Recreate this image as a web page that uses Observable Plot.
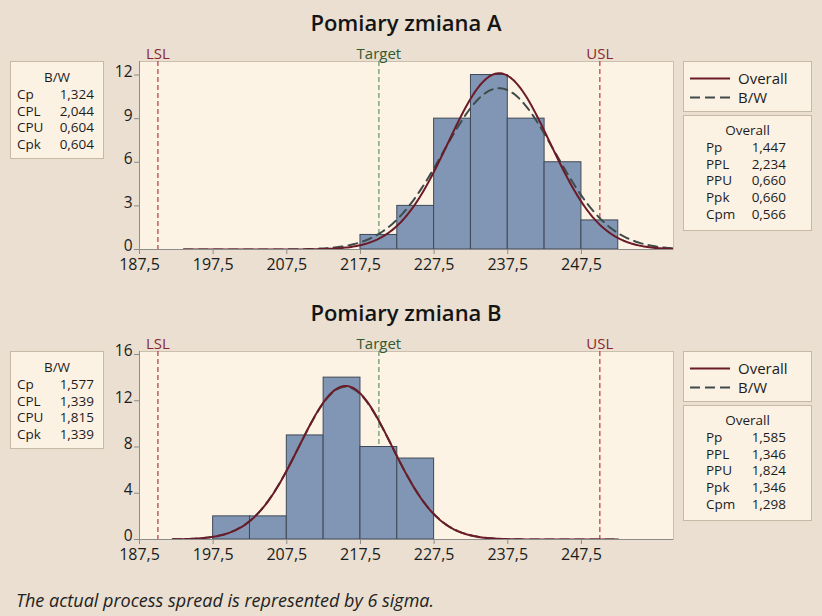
<!DOCTYPE html>
<html>
<head>
<meta charset="utf-8">
<script src="https://cdn.jsdelivr.net/npm/d3@7"></script>
<script src="https://cdn.jsdelivr.net/npm/@observablehq/plot@0.6"></script>
<style>
  html, body { margin: 0; background: #eadfd0; }
  #page { position: relative; width: 822px; height: 616px; background: #eadfd0; overflow: hidden;
          font-family: "Open Sans", "Noto Sans", sans-serif; color: #1c1c1c; }
  .title { position: absolute; left: 139px; width: 534px; text-align: center; font-size: 22px; font-weight: 600; line-height: 30px; color: #141414; }
  .panel { position: absolute; left: 0; }
  .box { position: absolute; background: #fcf2e4; border: 1px solid #c8b9a6; box-sizing: border-box; font-size: 13.5px; line-height: 18px; }
  .box .hd { position: absolute; left: 0; right: 0; text-align: center; }
  .box .lb { position: absolute; }
  .box .vl { position: absolute; text-align: right; }
  .legend { position: absolute; background: #fcf2e4; border: 1px solid #c8b9a6; box-sizing: border-box; }
  .caption { position: absolute; left: 16px; top: 588px; font-style: italic; font-size: 18px; line-height: 24px; color: #222; }
</style>
</head>
<body>
<div id="page"></div>
<script>
// Specification limits and axis ticks shared by both panels
const specNames = ["LSL", "Target", "USL"];
const specValues = [190, 220, 250];
const xTicks = [187.5, 197.5, 207.5, 217.5, 227.5, 237.5, 247.5];

// Panel A: histogram (bin lower edges, counts) and capability indices
const binStartA = [217.5, 222.5, 227.5, 232.5, 237.5, 242.5, 247.5];
const countsA = [1, 3, 9, 12, 9, 6, 2];
const yTicksA = [0, 3, 6, 9, 12];
const withinLabelsA = ["Cp", "CPL", "CPU", "Cpk"];
const withinValuesA = [1.324, 2.044, 0.604, 0.604];
const overallLabelsA = ["Pp", "PPL", "PPU", "Ppk", "Cpm"];
const overallValuesA = [1.447, 2.234, 0.660, 0.660, 0.566];

// Panel B
const binStartB = [197.5, 202.5, 207.5, 212.5, 217.5, 222.5];
const countsB = [2, 2, 9, 14, 8, 7];
const yTicksB = [0, 4, 8, 12, 16];
const withinLabelsB = ["Cp", "CPL", "CPU", "Cpk"];
const withinValuesB = [1.577, 1.339, 1.815, 1.339];
const overallLabelsB = ["Pp", "PPL", "PPU", "Ppk", "Cpm"];
const overallValuesB = [1.585, 1.346, 1.824, 1.346, 1.298];

const binWidth = 5;
const fmtNum = (v, d) => d3.format(`.${d}f`)(v).replace(".", ",");

const page = document.getElementById("page");

// Normal curve scaled to the histogram counts
function normalCurve(mean, sd, n, lo, hi) {
  const k = n * binWidth / (sd * Math.sqrt(2 * Math.PI));
  return d3.range(lo, hi + 0.001, 0.25).map(x => ({x, y: k * Math.exp(-0.5 * ((x - mean) / sd) ** 2)}));
}

function statBox(left, top, width, height, header, labels, values, lx, vr, y0) {
  const b = document.createElement("div");
  b.className = "box";
  Object.assign(b.style, {left: left + "px", top: top + "px", width: width + "px", height: height + "px"});
  let html = `<div class="hd" style="top:${y0}px">${header}</div>`;
  labels.forEach((l, i) => {
    const t = y0 + 16.8 * (i + 1);
    html += `<div class="lb" style="left:${lx}px;top:${t}px">${l}</div>`;
    html += `<div class="vl" style="right:${vr}px;top:${t}px">${fmtNum(values[i], 3)}</div>`;
  });
  b.innerHTML = html;
  page.appendChild(b);
}

function legendBox(left, top) {
  const d = document.createElement("div");
  d.className = "legend";
  Object.assign(d.style, {left: left + "px", top: top + "px", width: "129px", height: "51px"});
  d.innerHTML = `<svg width="127" height="49" style="position:absolute;left:0;top:0" font-family="Open Sans, sans-serif" font-size="15" fill="#1c1c1c">
      <line x1="6" x2="46" y1="16.5" y2="16.5" stroke="#6b1b27" stroke-width="2"/>
      <text x="54" y="22">Overall</text>
      <line x1="6" x2="46" y1="35.5" y2="35.5" stroke="#3f4b4b" stroke-width="2" stroke-dasharray="10,5"/>
      <text x="54" y="41">B/W</text>
    </svg>`;
  page.appendChild(d);
}

function panel(opts) {
  const {title, offset, binStart, counts, yMax, yTicks, withinLabels, withinValues,
         overallLabels, overallValues, curveLo, curveHi} = opts;
  const [LSL, , USL] = specValues;
  const n = d3.sum(counts);
  // Overall and within sigmas from Pp and Cp; mean from PPL
  const sdOverall = (USL - LSL) / (6 * overallValues[0]);
  const sdWithin = (USL - LSL) / (6 * withinValues[0]);
  const mean = LSL + 3 * sdOverall * overallValues[1];

  const bars = binStart.map((s, i) => ({x1: s, x2: s + binWidth, count: counts[i]}));
  const specs = specNames.map((name, i) => ({name, value: specValues[i],
    line: name === "Target" ? "#6f9a6f" : "#b8474f",
    ink: name === "Target" ? "#33592f" : "#8a2632"}));

  const t = document.createElement("div");
  t.className = "title";
  t.style.top = (offset + 7) + "px";
  t.textContent = title;
  page.appendChild(t);

  const chart = Plot.plot({
    width: 822, height: 240,
    marginLeft: 139, marginRight: 149, marginTop: 21, marginBottom: 31,
    style: {background: "transparent", fontFamily: "Open Sans, sans-serif", fontSize: "16px", color: "#1c1c1c"},
    x: {domain: [187.5, 260], label: null},
    y: {domain: [0, yMax], label: null},
    marks: [
      Plot.frame({fill: "#fdf3e4", stroke: "#cdbfad"}),
      Plot.ruleX(specs, {x: "value", stroke: "line", strokeWidth: 1.3, strokeDasharray: "5,3"}),
      Plot.text(specs, {x: "value", text: "name", frameAnchor: "top", lineAnchor: "bottom", dy: -3, fill: "ink", fontSize: 15}),
      Plot.rectY(bars, {x1: "x1", x2: "x2", y: "count", fill: "#8196b4", stroke: "#3e4856", strokeWidth: 1}),
      Plot.line(normalCurve(mean, sdWithin, n, curveLo, curveHi), {x: "x", y: "y", stroke: "#3f4b4b", strokeWidth: 2, strokeDasharray: "9,6", clip: true}),
      Plot.line(normalCurve(mean, sdOverall, n, curveLo, curveHi), {x: "x", y: "y", stroke: "#6b1b27", strokeWidth: 2, clip: true}),
      Plot.ruleY([0], {stroke: "#8c8c8c"}),
      Plot.ruleX([187.5], {stroke: "#8c8c8c"}),
      Plot.axisX(xTicks, {tickFormat: d => fmtNum(d, 1), tickSize: 5, tickPadding: 4, stroke: "#8c8c8c"}),
      // y tick marks, then the y labels nudged slightly upward
      Plot.axisY(yTicks, {tickSize: 5, tickFormat: () => "", stroke: "#8c8c8c"}),
      Plot.axisY(yTicks, {tickSize: 0, tickPadding: 7, dy: -3, fontSize: 15.5})
    ]
  });
  chart.classList.add("panel");
  chart.style.top = (offset + 40) + "px";
  page.appendChild(chart);

  statBox(10, offset + 61, 94, 98, "B/W", withinLabels, withinValues, 6, 9, 6);
  legendBox(683, offset + 61);
  statBox(683, offset + 115, 129, 116, "Overall", overallLabels, overallValues, 22, 25, 5);
}

panel({title: "Pomiary zmiana A", offset: 0, binStart: binStartA, counts: countsA, yMax: 12.93, yTicks: yTicksA,
       withinLabels: withinLabelsA, withinValues: withinValuesA, overallLabels: overallLabelsA, overallValues: overallValuesA,
       curveLo: 193.5, curveHi: 262});
panel({title: "Pomiary zmiana B", offset: 290, binStart: binStartB, counts: countsB, yMax: 16.26, yTicks: yTicksB,
       withinLabels: withinLabelsB, withinValues: withinValuesB, overallLabels: overallLabelsB, overallValues: overallValuesB,
       curveLo: 192, curveHi: 252.5});

const cap = document.createElement("div");
cap.className = "caption";
cap.textContent = "The actual process spread is represented by 6 sigma.";
page.appendChild(cap);
</script>
</body>
</html>
